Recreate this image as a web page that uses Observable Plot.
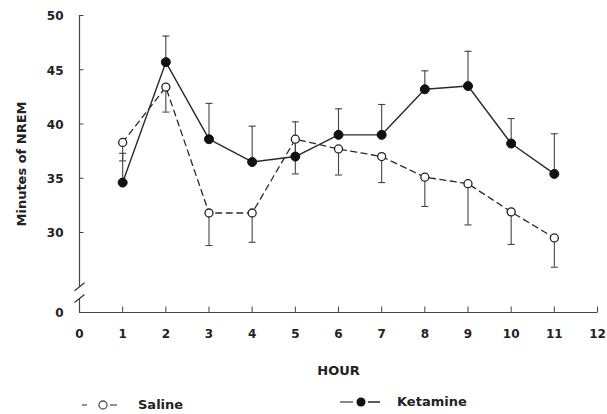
<!DOCTYPE html>
<html>
<head>
<meta charset="utf-8">
<script src="https://cdn.jsdelivr.net/npm/d3@7"></script>
<script src="https://cdn.jsdelivr.net/npm/@observablehq/plot@0.6"></script>
<style>
  html, body { margin: 0; padding: 0; background: #fff; overflow: hidden; }
  #wrap { position: relative; width: 607px; height: 414px; font-family: "DejaVu Sans", sans-serif; font-weight: bold; color: #222; }
  .leg { position: absolute; display: flex; align-items: center; font-size: 13px; line-height: 16px; }
</style>
</head>
<body>
<div id="wrap"></div>
<script>
// ---- data ----
const hours = [1, 2, 3, 4, 5, 6, 7, 8, 9, 10, 11];
const saline = [38.3, 43.4, 31.8, 31.8, 38.6, 37.7, 37.0, 35.1, 34.5, 31.9, 29.5];
const salineErrEnd = [36.6, 41.1, 28.8, 29.1, 35.4, 35.3, 34.6, 32.4, 30.7, 28.9, 26.8];
const ketamine = [34.6, 45.7, 38.6, 36.5, 37.0, 39.0, 39.0, 43.2, 43.5, 38.2, 35.4];
const ketamineErrEnd = [37.3, 48.1, 41.9, 39.8, 40.2, 41.4, 41.8, 44.9, 46.7, 40.5, 39.1];
const xTicks = [0, 1, 2, 3, 4, 5, 6, 7, 8, 9, 10, 11, 12];
const yTicks = [0, 30, 35, 40, 45, 50];
const yTickMarks = [30, 35, 40, 45, 50];
const xTickMarks = [1, 2, 3, 4, 5, 6, 7, 8, 9, 10, 11, 12];
const axisBreak = [13.5, 25];   // value positions of the two break slashes
const seriesNames = ["Saline", "Ketamine"];

const salineData = hours.map((h, i) => ({hour: h, value: saline[i], err: salineErrEnd[i]}));
const ketData = hours.map((h, i) => ({hour: h, value: ketamine[i], err: ketamineErrEnd[i]}));

// broken y axis: values below the break (25) are compressed
const breakAt = 25;
const squeeze = 0.0949;
const squash = v => v >= breakAt ? v : breakAt - (breakAt - v) * squeeze;

// custom symbols
const capSym = {draw(c, s) { const r = Math.sqrt(s / Math.PI); c.moveTo(-r, 0); c.lineTo(r, 0); }};
const upTick = {draw(c, s) { const r = Math.sqrt(s / Math.PI); c.moveTo(0, 0); c.lineTo(0, -r); }};
const rightTick = {draw(c, s) { const r = Math.sqrt(s / Math.PI); c.moveTo(0, 0); c.lineTo(r, 0); }};
const slashSym = {draw(c, s) { const r = Math.sqrt(s / Math.PI); c.moveTo(-r, r * 0.8); c.lineTo(r, -r * 0.8); }};

const ink = "#2a2a2a";

const chart = Plot.plot({
  width: 607,
  height: 385,
  marginLeft: 79,
  marginRight: 10,
  marginTop: 15,
  marginBottom: 73,
  style: {fontFamily: "'DejaVu Sans', sans-serif", fontSize: "12px", fontWeight: "bold", color: "#222", background: "white"},
  x: {domain: [0, 12]},
  y: {transform: squash, domain: [squash(0), 50]},
  marks: [
    Plot.axisX({ticks: xTicks, tickSize: 0, tickPadding: 17, tickFormat: d => String(d), label: null}),
    Plot.axisY({ticks: [], label: null}),
    Plot.text(yTicks, {x: 0, y: d => d, text: d => String(d), dx: -16, dy: 1, textAnchor: "end", lineAnchor: "middle", fontSize: 12, fontWeight: "bold", fill: "#222"}),
    // axis lines
    Plot.ruleY([0], {stroke: "#444", strokeWidth: 1.2}),
    Plot.ruleX([0], {y1: axisBreak[1], y2: 50, stroke: "#444", strokeWidth: 1.2}),
    Plot.ruleX([0], {y1: 0, y2: axisBreak[0], stroke: "#444", strokeWidth: 1.2}),
    Plot.dot(axisBreak, {x: 0, y: d => d, symbol: slashSym, r: 5, fill: "none", stroke: "#333", strokeWidth: 1.3}),
    // ticks
    Plot.dot(xTickMarks, {x: d => d, y: 0, symbol: upTick, r: 6, fill: "none", stroke: "#444", strokeWidth: 1}),
    Plot.dot(yTickMarks, {x: 0, y: d => d, symbol: rightTick, r: 4, fill: "none", stroke: "#444", strokeWidth: 1}),
    // error bars
    Plot.ruleX(salineData, {x: "hour", y1: "value", y2: "err", stroke: "#444", strokeWidth: 1.1}),
    Plot.dot(salineData, {x: "hour", y: "err", symbol: capSym, r: 3.5, fill: "none", stroke: "#444", strokeWidth: 1.1}),
    Plot.ruleX(ketData, {x: "hour", y1: "value", y2: "err", stroke: "#444", strokeWidth: 1.1}),
    Plot.dot(ketData, {x: "hour", y: "err", symbol: capSym, r: 3.5, fill: "none", stroke: "#444", strokeWidth: 1.1}),
    // lines
    Plot.line(salineData, {x: "hour", y: "value", stroke: ink, strokeWidth: 1.3, strokeDasharray: "6,4.5"}),
    Plot.line(ketData, {x: "hour", y: "value", stroke: ink, strokeWidth: 1.4}),
    // points
    Plot.dot(salineData, {x: "hour", y: "value", r: 4, fill: "white", stroke: "#222", strokeWidth: 1.3}),
    Plot.dot(ketData, {x: "hour", y: "value", r: 4.5, fill: "#111", stroke: "#111", strokeWidth: 1}),
    // axis titles
    Plot.text(["HOUR"], {frameAnchor: "bottom", dy: 58, textAnchor: "middle", lineAnchor: "middle", fontSize: 13, fontWeight: "bold", fill: "#222"}),
    Plot.text(["Minutes of NREM"], {frameAnchor: "left", dx: -58, rotate: -90, textAnchor: "middle", lineAnchor: "middle", fontSize: 13, fontWeight: "bold", fill: "#222"})
  ]
});

const wrap = document.getElementById("wrap");
wrap.appendChild(chart);

// legend
const legSaline = document.createElement("div");
legSaline.className = "leg";
legSaline.style.left = "82px";
legSaline.style.top = "397px";
legSaline.innerHTML = `<svg width="40" height="16"><line x1="0" y1="8" x2="5" y2="8" stroke="#555" stroke-width="1.3"/><line x1="28" y1="8" x2="35" y2="8" stroke="#555" stroke-width="1.3"/><circle cx="21" cy="8" r="4" fill="white" stroke="#555" stroke-width="1.3"/></svg><span style="margin-left:16px">${seriesNames[0]}</span>`;
wrap.appendChild(legSaline);

const legKet = document.createElement("div");
legKet.className = "leg";
legKet.style.left = "340px";
legKet.style.top = "394px";
legKet.innerHTML = `<svg width="41" height="16"><line x1="0" y1="8" x2="13" y2="8" stroke="#888" stroke-width="2"/><line x1="28" y1="8" x2="40" y2="8" stroke="#333" stroke-width="1.6"/><circle cx="21" cy="8" r="4.5" fill="#111"/></svg><span style="margin-left:16px">${seriesNames[1]}</span>`;
wrap.appendChild(legKet);
</script>
</body>
</html>
